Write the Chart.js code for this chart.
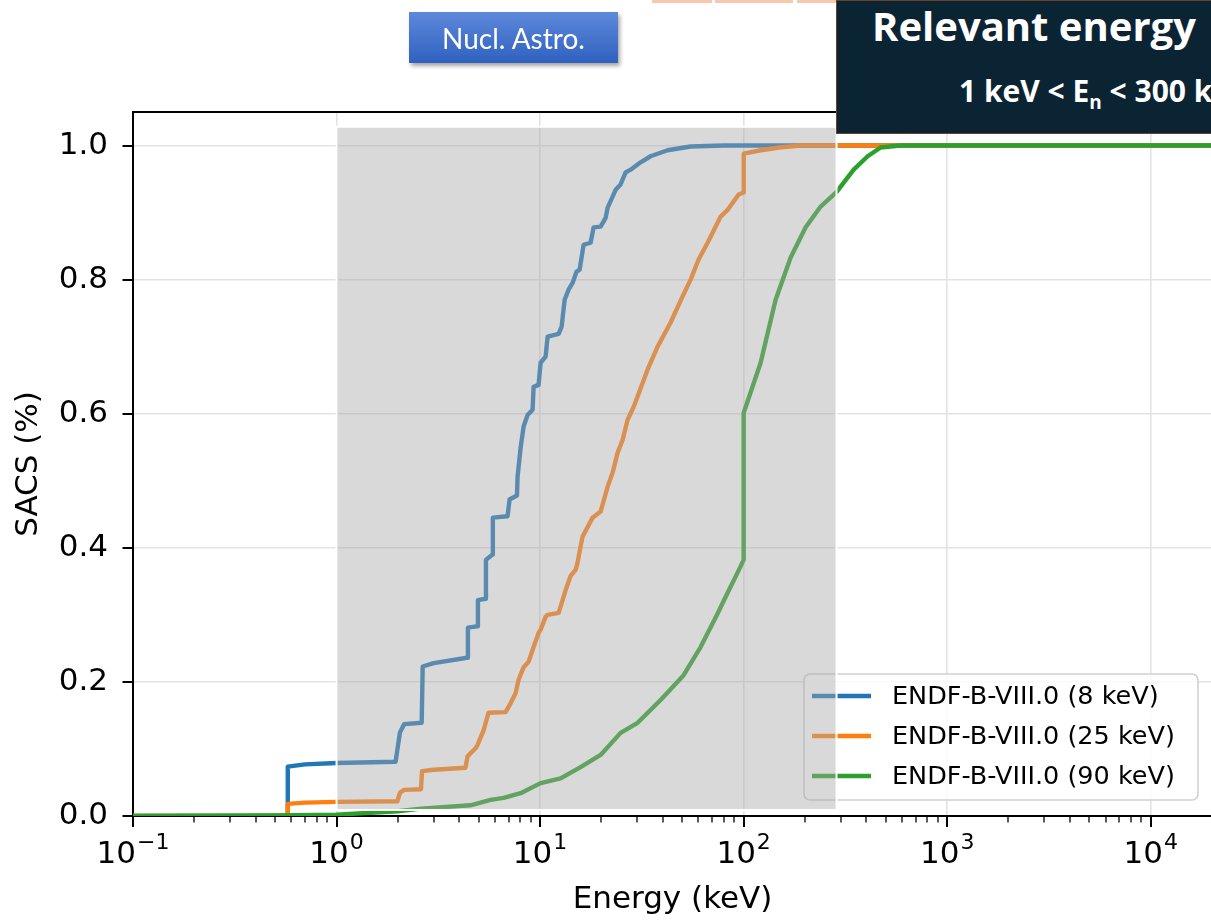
<!DOCTYPE html>
<html>
<head>
<meta charset="utf-8">
<script src="https://cdn.jsdelivr.net/npm/chart.js@4.4.1/dist/chart.umd.min.js"></script>
<style>
  html, body { margin: 0; padding: 0; background: #fff; overflow: hidden; }
  #stage { position: relative; width: 1211px; height: 922px; overflow: hidden; }
  #plot { position: absolute; left: 0; top: 0; }
  .strip { position: absolute; top: 0; height: 3px; background: #f6c8ad; }
  #tag {
    position: absolute; left: 409px; top: 12px; width: 209px; height: 51px;
    background: linear-gradient(#5e89da, #2f61c0);
    box-shadow: 2px 3px 4px rgba(0,0,0,0.35);
    color: #fff; font: 28px Lato, sans-serif;
    display: flex; align-items: center; justify-content: center;
  }
  #note {
    position: absolute; left: 836px; top: 0; width: 440px; height: 134px;
    background: #0b2433; border: 1.5px solid #6b4026; box-sizing: border-box;
    color: #fff; font-family: 'Open Sans', sans-serif; font-weight: 700;
  }
  #note .t1 { position: absolute; left: 35px; top: 5px; font-size: 40px; line-height: 40px; white-space: nowrap; }
  #note .t2 { position: absolute; left: 122px; top: 75px; font-size: 30px; line-height: 30px; white-space: nowrap; }
  #note sub { font-size: 19px; vertical-align: -7px; line-height: 0; }
</style>
</head>
<body>
<div id="stage">
  <canvas id="plot" width="1220" height="922"></canvas>
  <div class="strip" style="left:652px;width:60px"></div>
  <div class="strip" style="left:715px;width:78px"></div>
  <div class="strip" style="left:797px;width:58px"></div>
  <div class="strip" style="left:859px;width:80px"></div>
  <div class="strip" style="left:942px;width:59px"></div>
  <div class="strip" style="left:1004px;width:79px"></div>
  <div id="tag">Nucl. Astro.</div>
  <div id="note">
    <span class="t1">Relevant energy</span>
    <span class="t2">1 keV &lt; E<sub>n</sub> &lt; 300 keV</span>
  </div>
</div>
<script>
// Cumulative SACS fraction versus neutron energy (keV), ENDF/B-VIII.0
const energy8 = [0.1, 0.574, 0.576, 0.7, 1.0, 1.95, 2.05, 2.15, 2.62, 2.65, 3.0, 4.38, 4.42, 4.93, 4.95,
  5.40, 5.42, 5.84, 5.86, 6.92, 7.08, 7.70, 7.75, 8.02, 8.30, 8.68, 9.19, 9.29, 9.83, 10.06, 10.64, 10.89,
  12.33, 12.76, 13.20, 13.80, 14.44, 15.12, 15.64, 16.36, 17.71, 18.32, 19.83, 20.99, 21.46, 22.2, 23.5,
  24.86, 26.31, 27.85, 31.18, 34.91, 42.31, 54.9, 79.8, 20000];
const sacs8 = [0, 0, 0.0736, 0.077, 0.079, 0.081, 0.125, 0.137, 0.139, 0.223, 0.228, 0.236, 0.281, 0.283, 0.322,
  0.324, 0.382, 0.390, 0.445, 0.447, 0.472, 0.478, 0.506, 0.549, 0.581, 0.598, 0.606, 0.640, 0.643, 0.676, 0.685, 0.715,
  0.719, 0.730, 0.770, 0.785, 0.795, 0.812, 0.815, 0.852, 0.855, 0.878, 0.879, 0.892, 0.907, 0.917, 0.934,
  0.942, 0.960, 0.964, 0.975, 0.984, 0.993, 0.9985, 1.0, 1.0];

const energy25 = [0.1, 0.574, 0.576, 0.7, 1.0, 1.99, 2.05, 2.15, 2.60, 2.63, 3.0, 4.30, 4.40, 4.82, 4.93,
  5.28, 5.58, 6.77, 7.16, 7.58, 7.84, 8.30, 8.78, 9.29, 9.83, 10.06, 10.64, 10.89, 12.33, 12.9,
  13.35, 14.12, 14.94, 15.28, 15.81, 16.18, 18.11, 19.83, 21.46, 22.71, 24.04, 25.43, 26.92, 28.81, 33.76,
  37.79, 43.77, 50.13, 54.9, 60.08, 66.55, 77.09, 83.44, 94.5, 100, 100.1, 121.2, 150, 190.6, 20000];
const sacs25 = [0, 0, 0.018, 0.020, 0.021, 0.022, 0.035, 0.039, 0.040, 0.067, 0.069, 0.072, 0.089, 0.101, 0.106,
  0.128, 0.154, 0.155, 0.168, 0.183, 0.203, 0.222, 0.230, 0.252, 0.273, 0.278, 0.297, 0.300, 0.303, 0.322,
  0.337, 0.358, 0.367, 0.378, 0.402, 0.417, 0.445, 0.454, 0.491, 0.512, 0.542, 0.561, 0.591, 0.610, 0.666,
  0.700, 0.736, 0.775, 0.800, 0.830, 0.855, 0.894, 0.904, 0.927, 0.930, 0.988, 0.993, 0.997, 1.0, 1.0];

const energy90 = [0.1, 0.5, 1.0, 2.0, 2.6, 4.55, 5.71, 6.62, 8.02, 10.06, 12.61, 15.81, 19.83, 24.86, 30.14,
  39.09, 50.71, 61.46, 74.52, 83.44, 93.4, 100, 100.01, 121.2, 143.6, 170.2, 201.7, 239, 286.4, 347.2,
  406.8, 471.2, 590.8, 20000];
const sacs90 = [0.0, 0.001, 0.002, 0.007, 0.011, 0.016, 0.024, 0.027, 0.034, 0.049, 0.056, 0.073, 0.091, 0.124, 0.139,
  0.173, 0.210, 0.252, 0.302, 0.333, 0.363, 0.382, 0.601, 0.676, 0.770, 0.833, 0.878, 0.909, 0.931, 0.964,
  0.984, 0.997, 1.0, 1.0];

const seriesNames = ['ENDF-B-VIII.0 (8 keV)', 'ENDF-B-VIII.0 (25 keV)', 'ENDF-B-VIII.0 (90 keV)'];
const seriesColors = ['#1f77b4', '#ff7f0e', '#2ca02c'];

const decadeValues = [0.1, 1, 10, 100, 1000, 10000];
const decadeExponents = ['\u22121', '0', '1', '2', '3', '4'];
const yTickValues = [0, 0.2, 0.4, 0.6, 0.8, 1.0];
const shadedRange = [1, 286];      // keV
const shadedLevels = [0.009, 1.028];

const pairs = (xs, ys) => xs.map((x, i) => ({ x: x, y: ys[i] }));

Chart.defaults.font.family = "'DejaVu Sans', sans-serif";
Chart.defaults.color = '#000';

const AX_FONT = { family: "'DejaVu Sans', sans-serif", size: 31 };
const LINE_W = 4.4;

const decorations = {
  id: 'decorations',
  afterDatasetsDraw(chart) {
    const ctx = chart.ctx, a = chart.chartArea;
    const xs = chart.scales.x, ys = chart.scales.y;
    // legend, lower right inside the axes
    const w = 394, h = 126;
    const lx = a.right - 14 - w, ly = a.bottom - 16 - h;
    ctx.save();
    ctx.beginPath();
    ctx.roundRect(lx, ly, w, h, 6);
    ctx.fillStyle = 'rgba(255,255,255,0.8)';
    ctx.fill();
    ctx.lineWidth = 1.5;
    ctx.strokeStyle = '#cfcfcf';
    ctx.stroke();
    ctx.font = "25.5px 'DejaVu Sans'";
    ctx.textBaseline = 'middle';
    ctx.fillStyle = '#000';
    chart.data.datasets.forEach((ds, i) => {
      const yy = ly + 22 + i * 40;
      ctx.beginPath();
      ctx.moveTo(lx + 8, yy);
      ctx.lineTo(lx + 67, yy);
      ctx.strokeStyle = ds.borderColor;
      ctx.lineWidth = LINE_W;
      ctx.stroke();
      ctx.fillText(ds.label, lx + 88, yy + 1);
    });
    // shaded energy window
    const x1 = xs.getPixelForValue(shadedRange[0]);
    const x2 = xs.getPixelForValue(shadedRange[1]);
    const y1 = ys.getPixelForValue(shadedLevels[1]);
    const y2 = ys.getPixelForValue(shadedLevels[0]);
    ctx.fillStyle = 'rgba(170,168,170,0.43)';
    ctx.fillRect(x1, y1, x2 - x1, y2 - y1);
    ctx.strokeStyle = '#ffffff';
    ctx.lineWidth = 2;
    ctx.strokeRect(x1, y1, x2 - x1, y2 - y1);
    ctx.restore();
  },
  afterDraw(chart) {
    const ctx = chart.ctx, a = chart.chartArea;
    const xs = chart.scales.x;
    ctx.save();
    ctx.strokeStyle = '#000';
    // top spine
    ctx.lineWidth = 2;
    ctx.beginPath();
    ctx.moveTo(a.left - 1, a.top);
    ctx.lineTo(a.right, a.top);
    ctx.stroke();
    // x tick marks
    xs.ticks.forEach(t => {
      const px = Math.round(xs.getPixelForValue(t.value));
      if (px < a.left - 1 || px > a.right + 1) return;
      ctx.lineWidth = t.major ? 2 : 1.3;
      ctx.beginPath();
      ctx.moveTo(px, a.bottom);
      ctx.lineTo(px, a.bottom + (t.major ? 11 : 6.5));
      ctx.stroke();
    });
    // x decade labels: base 10 with a raised exponent
    ctx.fillStyle = '#000';
    ctx.textBaseline = 'alphabetic';
    ctx.textAlign = 'left';
    decadeValues.forEach((v, i) => {
      const px = xs.getPixelForValue(v);
      ctx.font = "31px 'DejaVu Sans'";
      const wb = ctx.measureText('10').width;
      ctx.font = "22px 'DejaVu Sans'";
      const we = ctx.measureText(decadeExponents[i]).width;
      const x0 = px - (wb + we + 1) / 2;
      ctx.font = "31px 'DejaVu Sans'";
      ctx.fillText('10', x0, a.bottom + 47);
      ctx.font = "22px 'DejaVu Sans'";
      ctx.fillText(decadeExponents[i], x0 + wb + 1, a.bottom + 33);
    });
    // y tick marks
    chart.scales.y.ticks.forEach(t => {
      const py = Math.round(chart.scales.y.getPixelForValue(t.value));
      ctx.lineWidth = 2;
      ctx.beginPath();
      ctx.moveTo(a.left, py);
      ctx.lineTo(a.left - 10.5, py);
      ctx.stroke();
    });
    ctx.restore();
  }
};

new Chart(document.getElementById('plot'), {
  type: 'line',
  data: {
    datasets: [
      { label: seriesNames[0], data: pairs(energy8, sacs8), borderColor: seriesColors[0], order: 3 },
      { label: seriesNames[1], data: pairs(energy25, sacs25), borderColor: seriesColors[1], order: 2 },
      { label: seriesNames[2], data: pairs(energy90, sacs90), borderColor: seriesColors[2], order: 1 }
    ].map(d => Object.assign(d, { borderWidth: LINE_W, pointRadius: 0, fill: false, tension: 0, borderJoinStyle: 'round' }))
  },
  options: {
    responsive: false,
    devicePixelRatio: 1,
    animation: false,
    layout: { padding: { top: 112, right: 8, left: 0, bottom: 0 } },
    plugins: { legend: { display: false }, tooltip: { enabled: false } },
    scales: {
      x: {
        type: 'logarithmic',
        min: 0.1,
        max: 20000,
        afterBuildTicks(scale) {
          const t = [];
          decadeValues.forEach(d => {
            for (let k = 1; k <= 9; k++) {
              const v = k * d;
              if (v <= scale.max * 1.0001) t.push({ value: v, major: k === 1 });
            }
          });
          scale.ticks = t;
        },
        afterFit(scale) {
          scale.height = 106;
          scale.paddingLeft = 0;
          scale.paddingRight = 0;
        },
        grid: {
          drawTicks: false,
          color: c => (c.tick && c.tick.major) ? '#e3e3e3' : 'rgba(0,0,0,0)',
          lineWidth: 1.6
        },
        border: { display: true, color: '#000', width: 2 },
        ticks: { autoSkip: false, maxRotation: 0, padding: 0, font: AX_FONT, callback: () => '' },
        title: { display: true, text: 'Energy (keV)', font: AX_FONT, color: '#000', padding: { top: 0, bottom: 3 } }
      },
      y: {
        min: 0,
        max: 1.05,
        afterBuildTicks(scale) { scale.ticks = yTickValues.map(v => ({ value: v })); },
        afterFit(scale) { scale.width = 133; },
        grid: { drawTicks: false, color: '#e3e3e3', lineWidth: 1.6 },
        border: { display: true, color: '#000', width: 2 },
        ticks: { padding: 25, font: AX_FONT, color: '#000', callback: v => Number(v).toFixed(1) },
        title: { display: true, text: 'SACS (%)', font: AX_FONT, color: '#000', padding: { top: 10, bottom: 0 } }
      }
    }
  },
  plugins: [decorations]
});
</script>
</body>
</html>
